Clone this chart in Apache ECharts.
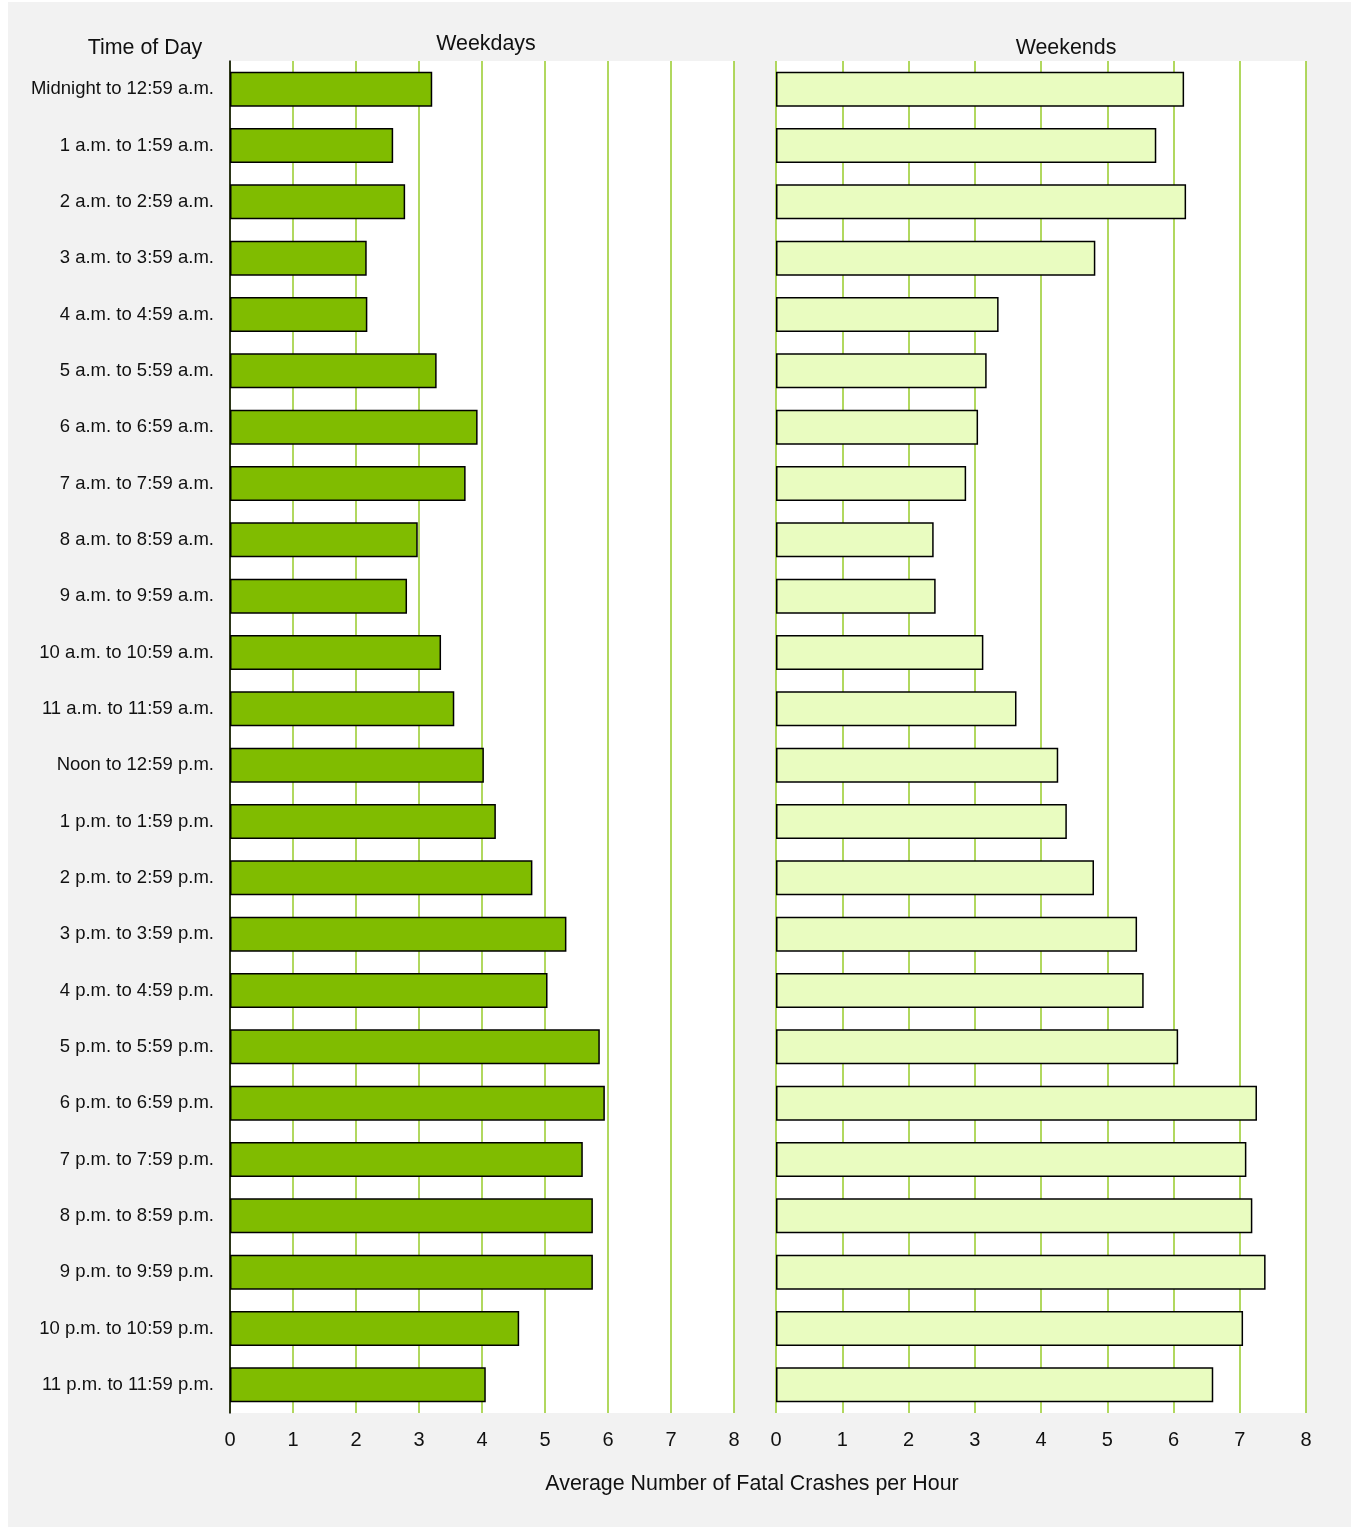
<!DOCTYPE html>
<html>
<head>
<meta charset="utf-8">
<script src="https://cdn.jsdelivr.net/npm/echarts@6/dist/echarts.min.js"></script>
<style>
html,body{margin:0;padding:0;background:#fff;}
#chart{width:1353px;height:1530px;}
</style>
</head>
<body>
<div id="chart"></div>
<script>
var categories = [
  "Midnight to 12:59 a.m.", "1 a.m. to 1:59 a.m.", "2 a.m. to 2:59 a.m.", "3 a.m. to 3:59 a.m.",
  "4 a.m. to 4:59 a.m.", "5 a.m. to 5:59 a.m.", "6 a.m. to 6:59 a.m.", "7 a.m. to 7:59 a.m.",
  "8 a.m. to 8:59 a.m.", "9 a.m. to 9:59 a.m.", "10 a.m. to 10:59 a.m.", "11 a.m. to 11:59 a.m.",
  "Noon to 12:59 p.m.", "1 p.m. to 1:59 p.m.", "2 p.m. to 2:59 p.m.", "3 p.m. to 3:59 p.m.",
  "4 p.m. to 4:59 p.m.", "5 p.m. to 5:59 p.m.", "6 p.m. to 6:59 p.m.", "7 p.m. to 7:59 p.m.",
  "8 p.m. to 8:59 p.m.", "9 p.m. to 9:59 p.m.", "10 p.m. to 10:59 p.m.", "11 p.m. to 11:59 p.m."
];
var weekdays = [3.21, 2.59, 2.78, 2.17, 2.18, 3.28, 3.93, 3.74, 2.98, 2.81, 3.35, 3.56,
                4.03, 4.22, 4.80, 5.34, 5.04, 5.87, 5.95, 5.60, 5.76, 5.76, 4.59, 4.06];
var weekends = [6.16, 5.74, 6.19, 4.82, 3.36, 3.18, 3.05, 2.87, 2.38, 2.41, 3.13, 3.63,
                4.26, 4.39, 4.80, 5.45, 5.55, 6.07, 7.26, 7.10, 7.19, 7.39, 7.05, 6.60];
var xTicks = [0, 1, 2, 3, 4, 5, 6, 7, 8];

var FONT = "Liberation Sans, Arial, sans-serif";
var GRID_GREEN = "#97cb2a";

var chart = echarts.init(document.getElementById('chart'), null, {renderer: 'canvas'});

function xAxis(gi) {
  return {
    type: 'value', gridIndex: gi, min: xTicks[0], max: xTicks[xTicks.length - 1], interval: 1,
    axisLine: {show: false}, axisTick: {show: false},
    axisLabel: {color: '#111', fontFamily: FONT, fontSize: 20, margin: 17},
    splitLine: {show: true, lineStyle: {color: GRID_GREEN, width: 1.5}}
  };
}
function yAxis(gi, showLabels) {
  return {
    type: 'category', gridIndex: gi, data: categories, inverse: true,
    axisLine: {show: showLabels, lineStyle: {color: '#000', width: 1.5}},
    axisTick: {show: false},
    axisLabel: {show: showLabels, color: '#111', fontFamily: FONT, fontSize: 18.5, margin: 16,
                padding: [3, 0, 0, 0]},
    splitLine: {show: false}
  };
}
function label(text, x, y) {
  return {
    type: 'text', silent: true, z: 10,
    style: {text: text, x: x, y: y, align: 'center', verticalAlign: 'middle',
            textAlign: 'center', textVerticalAlign: 'middle',
            font: '21.4px ' + FONT, fill: '#111'}
  };
}

var option = {
  backgroundColor: '#ffffff',
  animation: false,
  graphic: [
    {type: 'rect', z: -100, silent: true, shape: {x: 8, y: 2, width: 1343, height: 1525}, style: {fill: '#f2f2f2'}},
    label('Time of Day', 145, 48),
    label('Weekdays', 486, 44),
    label('Weekends', 1066, 48),
    label('Average Number of Fatal Crashes per Hour', 752, 1484)
  ],
  grid: [
    {left: 230, right: 619, top: 61, bottom: 117, show: true, backgroundColor: '#fff', borderWidth: 0},
    {left: 776, right: 47, top: 61, bottom: 117, show: true, backgroundColor: '#fff', borderWidth: 0}
  ],
  xAxis: [xAxis(0), xAxis(1)],
  yAxis: [yAxis(0, true), yAxis(1, false)],
  series: [
    {type: 'bar', name: 'Weekdays', xAxisIndex: 0, yAxisIndex: 0, data: weekdays,
     barCategoryGap: '38%', itemStyle: {color: '#80bc00', borderColor: '#000', borderWidth: 1.5}},
    {type: 'bar', name: 'Weekends', xAxisIndex: 1, yAxisIndex: 1, data: weekends,
     barCategoryGap: '38%', itemStyle: {color: '#e9fcc0', borderColor: '#000', borderWidth: 1.5}}
  ]
};
chart.setOption(option);
</script>
</body>
</html>
